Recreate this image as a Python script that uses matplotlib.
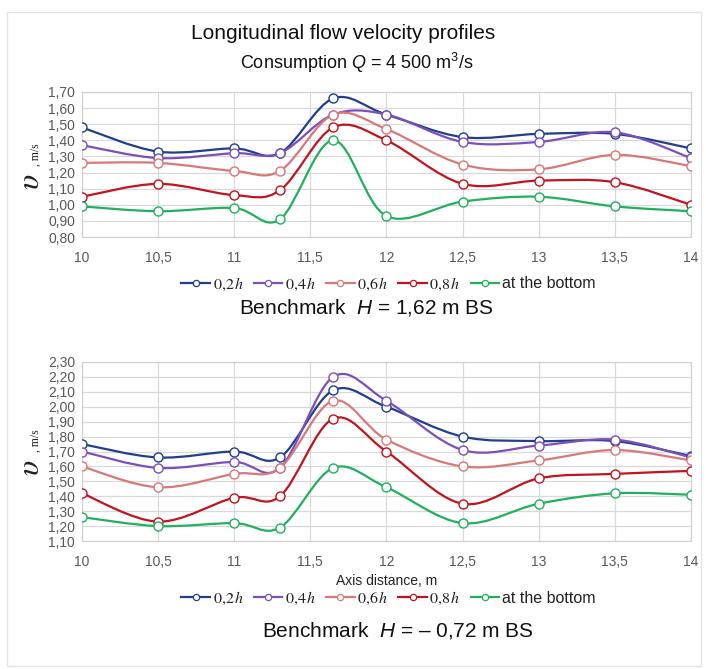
import matplotlib
matplotlib.use("Agg")
import matplotlib.pyplot as plt
import numpy as np
from matplotlib.path import Path
from matplotlib.patches import PathPatch, Rectangle
from matplotlib.font_manager import FontProperties
from matplotlib.ticker import FuncFormatter, MultipleLocator

plt.rcParams['font.family'] = ['Liberation Sans', 'DejaVu Sans']
plt.rcParams['mathtext.fontset'] = 'custom'
plt.rcParams['mathtext.rm'] = 'Liberation Sans'
plt.rcParams['mathtext.it'] = 'Liberation Sans:italic'

# data
x = [10, 10.5, 11, 11.3, 11.65, 12, 12.5, 13, 13.5, 14]
labels = [r'$0{,}2\,h$', r'$0{,}4\,h$', r'$0{,}6\,h$', r'$0{,}8\,h$', 'at the bottom']
colors = ['#213f8e', '#7b50bd', '#d8787a', '#c0141f', '#20b05e']

# Benchmark H = 1,62 m BS
top_02 = [1.48, 1.33, 1.35, 1.32, 1.66, 1.56, 1.42, 1.44, 1.44, 1.35]
top_04 = [1.37, 1.29, 1.32, 1.32, 1.56, 1.56, 1.39, 1.39, 1.45, 1.29]
top_06 = [1.26, 1.26, 1.21, 1.21, 1.56, 1.47, 1.25, 1.22, 1.31, 1.24]
top_08 = [1.05, 1.13, 1.06, 1.09, 1.48, 1.40, 1.13, 1.15, 1.14, 1.00]
top_bot = [0.99, 0.96, 0.98, 0.91, 1.40, 0.93, 1.02, 1.05, 0.99, 0.96]

# Benchmark H = -0,72 m BS
low_02 = [1.75, 1.66, 1.70, 1.66, 2.11, 2.00, 1.80, 1.77, 1.77, 1.67]
low_04 = [1.70, 1.59, 1.63, 1.59, 2.20, 2.04, 1.71, 1.74, 1.78, 1.66]
low_06 = [1.60, 1.46, 1.55, 1.59, 2.04, 1.78, 1.60, 1.64, 1.71, 1.64]
low_08 = [1.42, 1.23, 1.39, 1.40, 1.92, 1.70, 1.35, 1.52, 1.55, 1.57]
low_bot = [1.26, 1.20, 1.22, 1.19, 1.59, 1.46, 1.22, 1.35, 1.42, 1.41]


def smooth_path(xs, ys):
    # Excel-like smoothed line: cubic Bezier through the points
    p = np.column_stack([xs, ys]).astype(float)
    n = len(p)
    verts = [p[0]]
    codes = [Path.MOVETO]
    for i in range(n - 1):
        p0 = p[i - 1] if i > 0 else p[i]
        p3 = p[i + 2] if i + 2 < n else p[i + 1]
        c1 = p[i] + (p[i + 1] - p0) / 6
        c2 = p[i + 1] - (p3 - p[i]) / 6
        verts += [c1, c2, p[i + 1]]
        codes += [Path.CURVE4] * 3
    return Path(verts, codes)


def draw(ax, series, ymin, ymax):
    for ys, c in zip(series, colors):
        ax.add_patch(PathPatch(smooth_path(x, ys), fill=False, edgecolor=c,
                               lw=1.6, zorder=3))
        ax.plot(x, ys, linestyle='none', marker='o', ms=6.5,
                mfc='white', mec=c, mew=1.0, zorder=4)
    ax.set_xlim(10, 14)
    ax.set_ylim(ymin, ymax)
    ax.xaxis.set_major_locator(MultipleLocator(0.5))
    ax.yaxis.set_major_locator(MultipleLocator(0.1))
    ax.xaxis.set_major_formatter(FuncFormatter(
        lambda v, pos: ('%g' % v).replace('.', ',')))
    ax.yaxis.set_major_formatter(FuncFormatter(
        lambda v, pos: ('%.2f' % v).replace('.', ',')))
    ax.grid(True, color='#d9d9d9', lw=0.9)
    ax.set_axisbelow(True)
    for s in ax.spines.values():
        s.set_color('#d0d0d0')
    ax.tick_params(length=0, labelsize=10, colors='#595959')
    ax.tick_params(axis='x', pad=10)
    ax.tick_params(axis='y', pad=5)


def ylabel(fig, yu, ym):
    fig.text(31 / 706, 1 - yu / 669, r'$\upsilon$', math_fontfamily='stix',
             fontsize=23, rotation=90, ha='center', va='center', color='#222222')
    fig.text(36 / 706, 1 - ym / 669, ', m/s', family='Liberation Serif',
             fontsize=8.5, rotation=90, ha='center', va='center', color='#222222')


def add_legend(fig, y):
    handles = [plt.Line2D([], [], color=c, lw=1.6, marker='o', ms=4.5,
                          mfc='white', mec=c, mew=0.9) for c in colors]
    prop = FontProperties(family='Liberation Sans', size=11.5, math_fontfamily='stix')
    leg = fig.legend(handles, labels, loc='center', bbox_to_anchor=(0.55, y),
                     ncol=5, frameon=False, prop=prop, handlelength=1.8,
                     handletextpad=0.15, columnspacing=0.6)
    for t in leg.get_texts():
        t.set_color('#222222')
    return leg


fig = plt.figure(figsize=(7.06, 6.69), dpi=100)
fig.patches.append(Rectangle((0.010, 0.004), 0.983, 0.978, transform=fig.transFigure,
                             fill=False, edgecolor='#e4e4e4', lw=1.0))

ax1 = fig.add_axes([0.1161, 0.6457, 0.8626, 0.2168])
ax2 = fig.add_axes([0.1161, 0.1913, 0.8626, 0.2676])

draw(ax1, [top_02, top_04, top_06, top_08, top_bot], 0.8, 1.7)
draw(ax2, [low_02, low_04, low_06, low_08, low_bot], 1.1, 2.3)
ylabel(fig, 182, 155)
ylabel(fig, 468, 441)

fig.text(0.486, 0.950, 'Longitudinal flow velocity profiles', ha='center',
         va='center', fontsize=15, color='#111111')
fig.text(0.505, 0.906, r'Consumption $\mathit{Q}$ = 4 500 m$^3$/s', ha='center',
         va='center', fontsize=13, color='#111111')

add_legend(fig, 0.5755)
fig.text(0.519, 0.541, r'Benchmark  $\mathit{H}$ = 1,62 m BS', ha='center',
         va='center', fontsize=15, color='#111111')

fig.text(0.548, 0.132, 'Axis distance, m', ha='center', va='center',
         fontsize=10, color='#222222')
add_legend(fig, 0.106)
fig.text(0.564, 0.057, r'Benchmark  $\mathit{H}$ = – 0,72 m BS', ha='center',
         va='center', fontsize=15, color='#111111')

fig.savefig('out.png', dpi=100)
